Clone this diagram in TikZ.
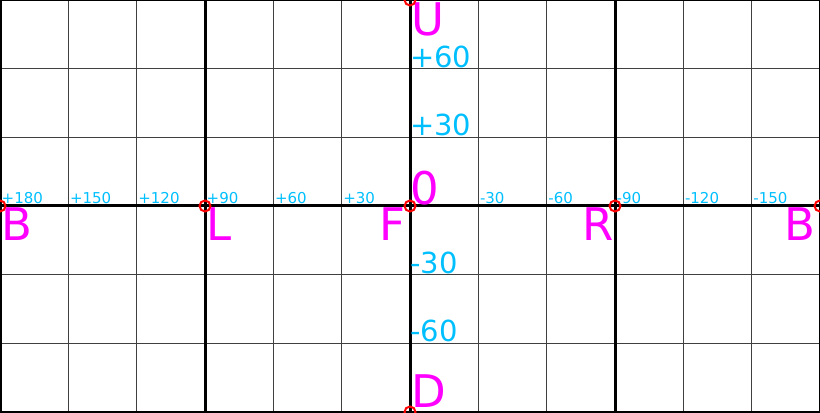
\documentclass[tikz,border=0pt]{standalone}
\usepackage{fontspec}
\setmainfont{DejaVu Sans}
\definecolor{skyblue}{RGB}{0,191,255}
\definecolor{facemag}{RGB}{255,0,255}
\tikzset{
  thingrid/.style={black!75, line width=0.8pt},
  thickgrid/.style={black, line width=3pt},
  anglab/.style={text=skyblue, font=\fontsize{15}{15}\selectfont, inner sep=0pt, anchor=base west, xshift=1.5pt, yshift=2.5pt},
  latlab/.style={text=skyblue, font=\fontsize{29}{29}\selectfont, inner sep=0pt, anchor=base west, xshift=0pt, yshift=1.5pt},
  facelab/.style={text=facemag, font=\fontsize{45}{45}\selectfont, inner sep=1.5pt},
  pole/.style={draw=red, line width=2pt, circle, minimum size=11pt, inner sep=0pt}
}
\begin{document}
\begin{tikzpicture}[x=68.333pt, y=68.667pt]
                \useasboundingbox (0,0) rectangle (12,6);
                \coordinate (Bleft) at (0,3);
                \coordinate (L) at (3,3);
                \coordinate (F) at (6,3);
                \coordinate (R) at (9,3);
                \coordinate (Bright) at (12,3);
                \coordinate (U) at (6,6);
                \coordinate (D) at (6,0);

                \draw[thingrid] (1,0) -- (1,6);
                \draw[thingrid] (2,0) -- (2,6);
                \draw[thingrid] (4,0) -- (4,6);
                \draw[thingrid] (5,0) -- (5,6);
                \draw[thingrid] (7,0) -- (7,6);
                \draw[thingrid] (8,0) -- (8,6);
                \draw[thingrid] (10,0) -- (10,6);
                \draw[thingrid] (11,0) -- (11,6);
                \draw[thingrid] (0,1) -- (12,1);
                \draw[thingrid] (0,2) -- (12,2);
                \draw[thingrid] (0,4) -- (12,4);
                \draw[thingrid] (0,5) -- (12,5);

                \draw[thickgrid] (0,0) rectangle (12,6);
                \draw[thickgrid] (Bleft) -- (Bright);
                \draw[thickgrid] (D) -- (U);
                \draw[thickgrid] (3,0) -- (3,6);
                \draw[thickgrid] (9,0) -- (9,6);

                \node[anglab] (a180) at (0,3) {+180};
                \node[anglab] (a150) at (1,3) {+150};
                \node[anglab] (a120) at (2,3) {+120};
                \node[anglab] (a90) at (3,3) {+90};
                \node[anglab] (a60) at (4,3) {+60};
                \node[anglab] (a30) at (5,3) {+30};
                \node[anglab] (am30) at (7,3) {-30};
                \node[anglab] (am60) at (8,3) {-60};
                \node[anglab] (am90) at (9,3) {-90};
                \node[anglab] (am120) at (10,3) {-120};
                \node[anglab] (am150) at (11,3) {-150};

                \node[latlab] (l60) at (6,5) {+60};
                \node[latlab] (l30) at (6,4) {+30};
                \node[latlab] (lm30) at (6,2) {-30};
                \node[latlab] (lm60) at (6,1) {-60};
                \node[facelab, anchor=base west, inner sep=0pt, yshift=1pt] (zero) at (F) {0};

                \node[facelab, anchor=north west] (bl) at (Bleft) {B};
                \node[facelab, anchor=north west] (ll) at (L) {L};
                \node[facelab, anchor=north east, xshift=-3pt] (fl) at (F) {F};
                \node[facelab, anchor=north east] (rl) at (R) {R};
                \node[facelab, anchor=north east, xshift=-3pt] (br) at (Bright) {B};
                \node[facelab, anchor=north west, yshift=-1.5pt] (ul) at (U) {U};
                \node[facelab, anchor=south west, yshift=2.5pt] (dl) at (D) {D};

                \node[pole] (pB1) at (Bleft) {};
                \node[pole] (pL) at (L) {};
                \node[pole] (pF) at (F) {};
                \node[pole] (pR) at (R) {};
                \node[pole] (pB2) at (Bright) {};
                \node[pole] (pU) at (U) {};
                \node[pole] (pD) at (D) {};
            \end{tikzpicture}
\end{document}
